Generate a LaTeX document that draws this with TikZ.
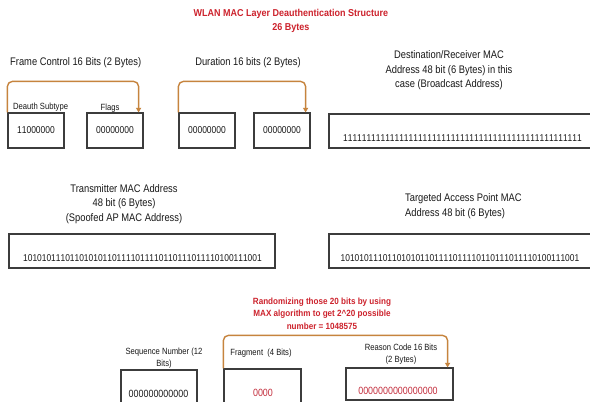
\documentclass[tikz,border=0pt]{standalone}
\usepackage{fontspec}
\usetikzlibrary{arrows.meta,calc}
\newfontfamily\labfont{Liberation Sans}[FakeStretch=0.85]
\newfontfamily\bitfont{Liberation Sans}[FakeStretch=0.85,Kerning=Off]
\newfontfamily\ttlfont{Liberation Sans}[FakeStretch=0.9]
\definecolor{txt}{RGB}{25,25,25}
\definecolor{redc}{RGB}{205,35,45}
\definecolor{redd}{RGB}{195,45,60}
\definecolor{orc}{RGB}{198,132,62}
\definecolor{boxc}{RGB}{60,60,60}
\tikzset{
  lab/.style={font=\labfont\fontsize{11}{14.5}\selectfont, text=txt, inner sep=0pt, align=center},
  sublab/.style={font=\labfont\fontsize{9}{11.8}\selectfont, text=txt, inner sep=0pt, align=center},
  redtxt/.style={font=\ttlfont\bfseries\fontsize{9}{12.5}\selectfont, text=redc, inner sep=0pt, align=center},
  ttl/.style={font=\ttlfont\bfseries\fontsize{10}{14}\selectfont, text=redc, inner sep=0pt, align=center},
  field/.style={draw=boxc, line width=1.2pt, inner sep=0pt},
  longbits/.style={font=\bitfont\fontsize{9.9}{12}\selectfont, text=txt, inner sep=0pt},
  bits/.style={font=\bitfont\fontsize{10.5}{12}\selectfont, text=txt, inner sep=0pt},
  smallbits/.style={font=\bitfont\fontsize{10}{12}\selectfont, text=txt, inner sep=0pt},
  redbits/.style={font=\bitfont\fontsize{10.5}{12}\selectfont, text=redd, inner sep=0pt},
  arr/.style={draw=orc, line width=1.4pt, rounded corners=5pt, -{Triangle[length=4.5pt,width=5pt]}},
}
\begin{document}
\begin{tikzpicture}[x=1pt,y=-1pt]
\useasboundingbox (0,0) rectangle (590,402);
\clip (0,0) rectangle (590,402);
\fill[white] (0,0) rectangle (590,402);

% title
\node[ttl] (title) at (291,21) {WLAN MAC Layer Deauthentication Structure\\26 Bytes};

% frame control
\node[lab, anchor=west] (fclab) at (10,63) {Frame Control 16 Bits (2 Bytes)};
\node[field, minimum width=56pt, minimum height=35pt] (b1) at (36,130.5) {};
\node[field, minimum width=56pt, minimum height=35pt] (b2) at (115,130.5) {};
\node[smallbits] (b1t) at (b1.center) {11000000};
\node[smallbits] (b2t) at (b2.center) {00000000};
\node[sublab, anchor=west] (deauth) at (13,107) {Deauth Subtype};
\node[sublab] (flags) at (110,108) {Flags};
\draw[arr] (b1.north west) |- ([xshift=-5pt,yshift=31pt]b2.north east) -- ([xshift=-5pt]b2.north east);

% duration
\node[lab] (durlab) at (248,63) {Duration 16 bits (2 Bytes)};
\node[field, minimum width=56pt, minimum height=35pt] (b3) at (207,130.5) {};
\node[field, minimum width=56pt, minimum height=35pt] (b4) at (282,130.5) {};
\node[smallbits] (b3t) at (b3.center) {00000000};
\node[smallbits] (b4t) at (b4.center) {00000000};
\draw[arr] (b3.north west) |- ([xshift=-5pt,yshift=31pt]b4.north east) -- ([xshift=-5pt]b4.north east);

% destination
\node[lab] (destlab) at (449,70.5) {Destination/Receiver MAC\\Address 48 bit (6 Bytes) in this\\case (Broadcast Address)};
\node[field, minimum width=263pt, minimum height=34pt] (dest) at (460.5,131) {};
\node[longbits] (destt) at (462.5,138) {111111111111111111111111111111111111111111111111111};

% transmitter
\node[lab] (txlab) at (124,204) {Transmitter MAC Address\\48 bit (6 Bytes)\\(Spoofed AP MAC Address)};
\node[field, minimum width=266pt, minimum height=34pt] (tx) at (142,251) {};
\node[longbits] (txt) at (142.5,258) {101010111011010101101111011110110111011110100111001};

% targeted AP
\node[lab, anchor=west, align=left] (aplab) at (405,206) {Targeted Access Point MAC\\Address 48 bit (6 Bytes)};
\node[field, minimum width=263pt, minimum height=34pt] (ap) at (460.5,251) {};
\node[longbits] (apt) at (460,258) {101010111011010101101111011110110111011110100111001};

% bottom row
\node[redtxt] (randlab) at (322,313.5) {Randomizing those 20 bits by using\\MAX algorithm to get 2\^{}20 possible\\number = 1048575};
\node[sublab] (seqlab) at (164,358.5) {Sequence Number (12\\Bits)};
\node[sublab] (fraglab) at (261,353) {Fragment\ \ (4 Bits)};
\node[sublab] (reaslab) at (401,354) {Reason Code 16 Bits\\(2 Bytes)};
\node[field, minimum width=76pt, minimum height=44pt] (seq) at (159,392) {};
\node[field, minimum width=77pt, minimum height=45pt] (frag) at (262.5,391.5) {};
\node[field, minimum width=107pt, minimum height=32pt] (reas) at (399.5,384) {};
\node[bits] (seqt) at (158.5,394) {000000000000};
\node[redbits] (fragt) at (263,393) {0000};
\node[redbits] (reast) at (398,391) {0000000000000000};
\draw[arr] (frag.north west) |- ([xshift=-6pt,yshift=32pt]reas.north east) -- ([xshift=-6pt]reas.north east);
\end{tikzpicture}
\end{document}
